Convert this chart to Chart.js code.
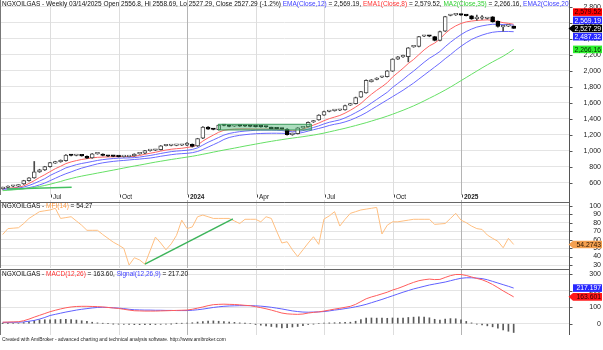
<!DOCTYPE html>
<html>
<head>
<meta charset="utf-8">
<script src="https://cdn.jsdelivr.net/npm/chart.js@4.4.1/dist/chart.umd.min.js"></script>
<style>
  body { margin: 0; background: #fff; }
  #wrap { position: relative; width: 603px; height: 350px; overflow: hidden; background: #fff; }
  #wrap canvas { position: absolute; left: 0; }
</style>
</head>
<body>
<div id="wrap">
  <canvas id="pricePane" width="603" height="201" style="top:0"></canvas>
  <canvas id="mfiPane" width="603" height="70" style="top:200px"></canvas>
  <canvas id="macdPane" width="603" height="81" style="top:269px"></canvas>
</div>
<script>
// weekly bars from 05/05/2023 to 03/14/2025, plus empty weeks on the right
var weekCount = 108;
var weeks = [];
for (var k = 0; k < weekCount; k++) {
    var d = new Date(2023, 4, 5 + 7 * k);
    weeks.push((d.getMonth() + 1) + '/' + d.getDate() + '/' + d.getFullYear());
}

var dateTickWeeks = [9, 22, 35, 48, 61, 74, 87];
var dateTickLabels = ['Jul', 'Oct', '2024', 'Apr', 'Jul', 'Oct', '2025'];
var priceTicks = [600, 800, 1000, 1200, 1400, 1600, 1800, 2000, 2200, 2400, 2600, 2800];
var mfiTicks = [30, 40, 50, 60, 70, 80, 90, 100];
var macdTicks = [0, 100, 200, 300];

var openP = [525, 540, 555, 556, 585, 625, 660, 735, 760, 800, 845, 862, 875, 945, 940, 940, 930, 910, 960, 958,
    935, 930, 928, 925, 926, 935, 960, 968, 1000, 1005, 1012, 1062, 1065, 1066, 1068, 1068, 1080, 1058, 1155, 1295,
    1268, 1262, 1318, 1315, 1305, 1308, 1306, 1305, 1303, 1300, 1298, 1292, 1276, 1274, 1270, 1200, 1212, 1285, 1300, 1358,
    1385, 1445, 1490, 1500, 1505, 1510, 1570, 1588, 1670, 1722, 1862, 1890, 1918, 1925, 1995, 2145, 2172, 2175, 2298, 2302,
    2430, 2432, 2425, 2378, 2495, 2690, 2697, 2698, 2692, 2685, 2650, 2655, 2652, 2672, 2618, 2548, 2557, 2556.8];
var highP = [545, 560, 565, 575, 630, 665, 865, 768, 805, 855, 868, 885, 950, 950, 948, 945, 935, 965, 968, 962,
    940, 935, 932, 930, 936, 962, 970, 1005, 1008, 1016, 1065, 1070, 1070, 1072, 1075, 1100, 1085, 1155, 1300, 1300,
    1275, 1325, 1325, 1320, 1312, 1312, 1310, 1308, 1307, 1304, 1302, 1295, 1280, 1278, 1275, 1220, 1290, 1305, 1360, 1378,
    1450, 1495, 1498, 1508, 1512, 1570, 1592, 1670, 1742, 1885, 1890, 1912, 1925, 2002, 2150, 2178, 2195, 2290, 2305, 2430,
    2438, 2436, 2430, 2495, 2680, 2702, 2705, 2703, 2697, 2690, 2695, 2690, 2662, 2678, 2622, 2565, 2566, 2558.69];
var lowP = [518, 535, 548, 550, 578, 618, 655, 728, 752, 795, 840, 855, 868, 935, 935, 930, 900, 905, 955, 935,
    926, 924, 920, 920, 922, 930, 955, 963, 995, 1000, 1008, 1058, 1060, 1061, 1063, 1063, 1045, 1052, 1150, 1265,
    1260, 1258, 1310, 1298, 1300, 1302, 1300, 1298, 1295, 1293, 1290, 1272, 1270, 1265, 1195, 1192, 1208, 1280, 1296, 1352,
    1380, 1440, 1485, 1494, 1500, 1505, 1565, 1583, 1665, 1718, 1858, 1885, 1912, 1920, 1990, 2140, 2165, 2110, 2292, 2298,
    2425, 2424, 2372, 2372, 2490, 2685, 2690, 2690, 2683, 2640, 2630, 2640, 2645, 2605, 2545, 2495, 2550, 2527.29];
var closeP = [540, 555, 560, 572, 625, 660, 735, 760, 800, 850, 862, 880, 945, 940, 942, 935, 905, 960, 962, 940,
    930, 928, 925, 926, 932, 958, 966, 1000, 1003, 1012, 1060, 1065, 1066, 1068, 1070, 1095, 1052, 1150, 1295, 1270,
    1265, 1320, 1315, 1303, 1308, 1306, 1305, 1303, 1300, 1298, 1296, 1275, 1274, 1270, 1200, 1215, 1285, 1300, 1355, 1372,
    1445, 1490, 1492, 1505, 1508, 1565, 1588, 1665, 1738, 1880, 1885, 1908, 1920, 1998, 2145, 2172, 2190, 2285, 2300, 2425,
    2433, 2430, 2378, 2490, 2675, 2697, 2700, 2695, 2688, 2648, 2662, 2668, 2655, 2612, 2552, 2560, 2560, 2527.29];

var ema8 = [525, 530, 536, 542, 560, 590, 625, 665, 700, 738, 775, 805, 838, 860, 876, 890, 900, 910, 917, 920,
    922, 924, 925, 925, 926, 930, 940, 955, 968, 980, 995, 1008, 1018, 1025, 1030, 1040, 1050, 1070, 1120, 1160,
    1195, 1230, 1255, 1265, 1270, 1272, 1272, 1272, 1270, 1270, 1270, 1270, 1268, 1265, 1255, 1248, 1252, 1270, 1295, 1320,
    1345, 1375, 1400, 1420, 1440, 1470, 1505, 1545, 1590, 1650, 1705, 1755, 1800, 1850, 1920, 1975, 2030, 2090, 2140, 2200,
    2260, 2310, 2345, 2395, 2465, 2520, 2560, 2590, 2610, 2620, 2628, 2632, 2635, 2630, 2615, 2600, 2592, 2579.52];
var ema12 = [522, 525, 528, 532, 545, 565, 590, 620, 650, 690, 722, 752, 785, 805, 825, 840, 852, 865, 878, 888,
    896, 902, 906, 908, 910, 913, 920, 930, 940, 952, 965, 977, 988, 995, 1000, 1005, 1015, 1035, 1070, 1105,
    1135, 1165, 1195, 1215, 1228, 1238, 1245, 1250, 1255, 1258, 1258, 1258, 1256, 1252, 1242, 1236, 1238, 1250, 1270, 1290,
    1310, 1335, 1355, 1370, 1385, 1410, 1440, 1475, 1510, 1550, 1595, 1640, 1685, 1730, 1790, 1840, 1890, 1945, 1995, 2050,
    2105, 2155, 2195, 2240, 2300, 2355, 2405, 2450, 2490, 2520, 2545, 2560, 2572, 2580, 2580, 2577, 2575, 2569.19];
var ema20 = [508, 511, 514, 518, 525, 538, 552, 572, 595, 625, 655, 685, 712, 735, 760, 782, 800, 818, 835, 848,
    858, 866, 873, 878, 884, 890, 895, 902, 908, 918, 930, 940, 950, 958, 963, 967, 975, 990, 1015, 1045,
    1075, 1105, 1140, 1165, 1180, 1192, 1200, 1207, 1212, 1215, 1217, 1218, 1218, 1217, 1215, 1213, 1215, 1228, 1245, 1262,
    1278, 1295, 1315, 1330, 1342, 1360, 1382, 1410, 1440, 1475, 1515, 1555, 1595, 1635, 1675, 1715, 1755, 1800, 1845, 1895,
    1945, 1995, 2045, 2095, 2150, 2200, 2255, 2305, 2350, 2390, 2420, 2445, 2465, 2480, 2488, 2490, 2490, 2487.32];
var ma35 = [500, 505, 510, 516, 522, 530, 540, 552, 565, 580, 598, 615, 635, 652, 668, 682, 695, 707, 720, 732,
    745, 757, 770, 783, 796, 808, 820, 832, 845, 857, 868, 879, 890, 900, 910, 920, 930, 942, 955, 968,
    982, 995, 1008, 1020, 1032, 1045, 1058, 1070, 1082, 1094, 1106, 1117, 1128, 1138, 1148, 1157, 1166, 1175, 1185, 1195,
    1207, 1220, 1235, 1250, 1265, 1280, 1297, 1314, 1332, 1350, 1370, 1390, 1410, 1432, 1455, 1480, 1505, 1532, 1560, 1590,
    1622, 1655, 1688, 1722, 1758, 1795, 1835, 1875, 1915, 1955, 1995, 2035, 2073, 2110, 2145, 2180, 2222, 2266.16];

var mfi14 = [66, 73, 73.5, 74, 79, 85, 89, 93, 94, 95, 97, 85, 86, 87, 82, 77, 71, 71, 71, 66,
    61.5, 57, 53.6, 49.7, 30, 38.6, 36, 31, 47, 63, 56, 48, 55, 65, 83, 73, 75, 87, 89, 87,
    85, 85, 85, 85, 82, 79, 84, 84, 84, 81, 87, 85, 70, 56, 57.5, 48, 40, 48, 56, 63.4,
    54.4, 84.3, 88, 93, 76, 84, 91, 93, 95, 96, 97, 98, 66.6, 77, 81, 81, 82, 83, 84, 84,
    84, 84, 78, 78.5, 79, 85, 91, 83, 80, 76, 73, 72, 65.4, 61.5, 58, 50.4, 61.5, 54.2743];

var macdLine = [9, 10, 11, 12, 18, 28, 40, 51, 62, 73, 82, 90, 97, 102, 105, 106, 106, 105, 104, 102,
    99, 96, 93, 88, 83, 79, 78, 77, 77, 77, 78, 79, 80, 81, 82, 83, 88, 95, 102, 110,
    116, 118, 119, 118, 117, 115, 112, 110, 104, 98, 91, 83, 74, 65, 60, 58, 57, 59, 65, 69,
    72, 77, 83, 89, 94, 100, 106, 118, 135, 152, 163, 172, 182, 192, 205, 215, 227, 240, 252, 262,
    268, 272, 269, 270, 282, 293, 300, 300, 294, 285, 276, 268, 255, 239, 220, 200, 182, 163.601];
var signalLine = [8, 8, 8.5, 9, 11, 15, 20, 28, 38, 50, 57, 64, 71, 77, 83, 88, 92, 96, 99, 100,
    99, 97, 95, 92, 88, 85, 84, 83, 83, 82, 82, 81, 81, 80, 80, 80, 82, 85, 89, 94,
    99, 103, 106, 108, 109, 110, 110, 110, 109, 107, 104, 100, 95, 90, 84, 78, 74, 71, 70, 71,
    72, 74, 78, 83, 87, 92, 97, 103, 110, 118, 128, 138, 148, 159, 170, 181, 192, 202, 212, 220,
    228, 236, 242, 248, 254, 262, 270, 277, 280, 280, 278, 275, 268, 258, 248, 238, 228, 217.197];
var macdHist = [1, 2, 2.5, 3, 7, 13, 20, 23, 24, 23, 25, 26, 26, 25, 22, 18, 14, 9, 5, 2,
    0, -1, -2, -4, -5, -6, -6, -6, -6, -5, -4, -2, -1, 1, 2, 3, 6, 10, 13, 16,
    17, 15, 13, 10, 8, 5, 2, 0, -5, -9, -13, -17, -21, -25, -24, -20, -17, -12, -5, -2,
    0, 3, 5, 6, 7, 8, 9, 15, 25, 34, 35, 34, 34, 33, 35, 34, 35, 38, 40, 42,
    40, 36, 27, 22, 28, 31, 30, 23, 14, 5, -2, -7, -13, -19, -28, -38, -46, -53.6];

// drawn studies (green box and trend lines)
var boxWeeks = [41, 58.6];
var boxValues = [1259, 1330];
var priceTrendWeeks = [0.8, 13.1];
var priceTrendValues = [521, 543];
var mfiTrendWeeks = [27, 43.7];
var mfiTrendValues = [31, 84.5];

var last = closeP.length - 1;
var BLUE = '#6a6aff', RED = '#ff6464', GREEN = '#66e066';
var FONT = '"Liberation Sans", Arial, sans-serif';

function fmt2(v) {
    return v.toLocaleString('en-US', {minimumFractionDigits: 2, maximumFractionDigits: 2});
}

function drawSegments(ctx, x, y, segs, clipRight) {
    ctx.save();
    ctx.beginPath();
    ctx.rect(0, 0, clipRight, 400);
    ctx.clip();
    ctx.font = '6.5px ' + FONT;
    ctx.textAlign = 'left';
    ctx.textBaseline = 'middle';
    segs.forEach(function (s) {
        ctx.fillStyle = s[1];
        ctx.fillText(s[0], x, y);
        x += ctx.measureText(s[0]).width;
    });
    ctx.restore();
}

function drawTag(ctx, y, text, bg, fg, arrow) {
    var x0 = 573, x1 = 602, h = 7.6;
    ctx.beginPath();
    if (arrow) {
        ctx.moveTo(568.5, y);
        ctx.lineTo(x0, y - h / 2);
    } else {
        ctx.moveTo(x0, y - h / 2);
    }
    ctx.lineTo(x1, y - h / 2);
    ctx.lineTo(x1, y + h / 2);
    ctx.lineTo(x0, y + h / 2);
    ctx.closePath();
    ctx.fillStyle = bg;
    ctx.fill();
    ctx.fillStyle = fg;
    ctx.font = '6.8px ' + FONT;
    ctx.textAlign = 'right';
    ctx.textBaseline = 'middle';
    ctx.fillText(text, x1 - 1, y + 0.5);
}

function line(ctx, x1, y1, x2, y2, color, w) {
    ctx.beginPath();
    ctx.moveTo(x1, y1);
    ctx.lineTo(x2, y2);
    ctx.strokeStyle = color;
    ctx.lineWidth = w || 1;
    ctx.stroke();
}

// grid, axis labels, titles and tags for one pane
function paneDecor(opt) {
    return {
        id: 'paneDecor',
        beforeDatasetsDraw: function (chart) {
            var ctx = chart.ctx, xs = chart.scales.x, area = chart.chartArea;
            ctx.save();
            dateTickWeeks.forEach(function (w, n) {
                var x = Math.round(xs.getPixelForValue(w)) + 0.5;
                var year = dateTickLabels[n].length === 4;
                line(ctx, x, opt.gridTop, x, area.bottom, year ? '#b4b4b4' : '#dddddd', 1);
            });
            ctx.restore();
        },
        afterDatasetsDraw: function (chart) {
            if (opt.extras) {
                chart.ctx.save();
                opt.extras(chart);
                chart.ctx.restore();
            }
        },
        afterDraw: function (chart) {
            var ctx = chart.ctx, xs = chart.scales.x, ys = chart.scales.y, area = chart.chartArea;
            ctx.save();
            var rx = Math.round(area.right) + 0.5;
            line(ctx, 0.5, opt.gridTop, 0.5, area.bottom, '#777', 1);
            line(ctx, rx, 0, rx, opt.axisBottom, '#555', 1);
            if (opt.topBorder) {
                line(ctx, 0, Math.round(area.top) + 0.5, rx, Math.round(area.top) + 0.5, '#666', 1);
            }
            // right axis labels
            ctx.font = '7px ' + FONT;
            ctx.fillStyle = '#222';
            ctx.textAlign = 'right';
            ctx.textBaseline = 'middle';
            opt.ticks.forEach(function (v) {
                var y = ys.getPixelForValue(v);
                line(ctx, rx, Math.round(y) + 0.5, rx + 3, Math.round(y) + 0.5, '#555', 1);
                ctx.fillText(opt.tickFormat(v), 601, y);
            });
            if (opt.dateLabels) {
                ctx.textAlign = 'left';
                dateTickWeeks.forEach(function (w, n) {
                    var x = Math.round(xs.getPixelForValue(w)) + 0.5;
                    var year = dateTickLabels[n].length === 4;
                    line(ctx, x + 1, 194.5, x + 1, 197.5, '#444', 1);
                    ctx.font = (year ? 'bold ' : '') + '6.5px ' + FONT;
                    ctx.fillStyle = '#222';
                    ctx.fillText(dateTickLabels[n], x + 2.5, 197.5);
                });
            }
            drawSegments(ctx, 2, opt.titleY, opt.title, area.right);
            opt.tags(chart, ctx, ys);
            if (opt.footer) {
                ctx.font = '4.9px ' + FONT;
                ctx.fillStyle = '#222';
                ctx.textAlign = 'left';
                ctx.textBaseline = 'middle';
                ctx.fillText(opt.footer, 2, opt.footerY);
            }
            ctx.restore();
        }
    };
}

function yScale(min, max) {
    return {
        position: 'right',
        min: min,
        max: max,
        afterBuildTicks: null,
        afterFit: function (s) { s.width = 34; },
        ticks: {display: false},
        grid: {color: '#e4e4e4', drawTicks: false},
        border: {display: false}
    };
}

function xScale() {
    return {type: 'category', display: false, offset: true, grid: {display: false}};
}

function setTicks(list) {
    return function (s) {
        s.ticks = list.map(function (v) { return {value: v}; });
    };
}

var baseOptions = function (padding, yCfg) {
    return {
        responsive: false,
        animation: false,
        events: [],
        layout: {padding: padding},
        plugins: {legend: {display: false}, tooltip: {enabled: false}},
        scales: {x: xScale(), y: yCfg}
    };
};

// ---- price pane
var priceY = yScale(446, 2871);
priceY.afterBuildTicks = setTicks(priceTicks);
var upCandle = function (i) { return closeP[i] >= openP[i]; };

new Chart(document.getElementById('pricePane'), {
    type: 'bar',
    data: {
        labels: weeks,
        datasets: [
            {
                type: 'bar', data: openP.map(function (o, i) { return [o, closeP[i]]; }),
                backgroundColor: openP.map(function (o, i) { return upCandle(i) ? '#ffffff' : '#000000'; }),
                borderColor: openP.map(function (o, i) { return upCandle(i) ? '#4a4a4a' : '#000000'; }),
                borderWidth: 1, borderSkipped: false, barThickness: 4, minBarLength: 1.5, grouped: false, order: 0
            },
            {
                type: 'bar', data: lowP.map(function (l, i) { return [l, highP[i]]; }),
                backgroundColor: '#4a4a4a', barThickness: 1, grouped: false, order: 1
            },
            {type: 'line', data: ma35, borderColor: GREEN, borderWidth: 1, pointRadius: 0, order: 2},
            {type: 'line', data: ema20, borderColor: BLUE, borderWidth: 1, pointRadius: 0, order: 2},
            {type: 'line', data: ema12, borderColor: BLUE, borderWidth: 1, pointRadius: 0, order: 2},
            {type: 'line', data: ema8, borderColor: RED, borderWidth: 1, pointRadius: 0, order: 2}
        ]
    },
    options: baseOptions({left: 0, right: 0, top: 1, bottom: 6}, priceY),
    plugins: [paneDecor({
        gridTop: 0,
        axisBottom: 201,
        ticks: priceTicks,
        tickFormat: function (v) { return v.toLocaleString('en-US'); },
        dateLabels: true,
        titleY: 4.5,
        title: [
            ['NGXOILGAS - Weekly 03/14/2025 Open 2556.8, Hi 2558.69, Lo 2527.29, Close 2527.29 (-1.2%) ', '#111'],
            ['EMA(Close,12)', '#3c3cff'], [' = ' + fmt2(ema12[last]) + ', ', '#111'],
            ['EMA1(Close,8)', '#ff3030'], [' = ' + fmt2(ema8[last]) + ', ', '#111'],
            ['MA2(Close,35)', '#30d030'], [' = ' + fmt2(ma35[last]) + ', ', '#111'],
            ['EMA2(Close,20)', '#3c3cff'], [' = ' + fmt2(ema20[last]), '#111']
        ],
        extras: function (chart) {
            var ctx = chart.ctx, xs = chart.scales.x, ys = chart.scales.y;
            var bx0 = xs.getPixelForValue(boxWeeks[0]), bx1 = xs.getPixelForValue(boxWeeks[1]);
            var by0 = ys.getPixelForValue(boxValues[1]), by1 = ys.getPixelForValue(boxValues[0]);
            ctx.fillStyle = 'rgba(70, 180, 110, 0.45)';
            ctx.fillRect(bx0, by0, bx1 - bx0, by1 - by0);
            ctx.strokeStyle = '#3a9a5a';
            ctx.lineWidth = 1;
            ctx.strokeRect(bx0, by0, bx1 - bx0, by1 - by0);
            line(ctx, xs.getPixelForValue(priceTrendWeeks[0]), ys.getPixelForValue(priceTrendValues[0]),
                xs.getPixelForValue(priceTrendWeeks[1]), ys.getPixelForValue(priceTrendValues[1]), '#44c060', 1.5);
        },
        tags: function (chart, ctx, ys) {
            var tags = [
                {value: ema8[last], bg: '#ff0000', fg: '#300000'},
                {value: ema12[last], bg: '#2828ff', fg: '#ffffff'},
                {value: closeP[last], bg: '#000000', fg: '#ffffff', arrow: true, anchor: true},
                {value: ema20[last], bg: '#2828ff', fg: '#ffffff'},
                {value: ma35[last], bg: '#2ef02e', fg: '#002800'}
            ];
            tags.forEach(function (t) { t.y = ys.getPixelForValue(t.value); });
            tags.sort(function (a, b) { return b.value - a.value; });
            var a = tags.findIndex(function (t) { return t.anchor; });
            var gap = 8.2, prev = tags[a].y, j;
            for (j = a - 1; j >= 0; j--) { tags[j].y = Math.min(tags[j].y, prev - gap); prev = tags[j].y; }
            prev = tags[a].y;
            for (j = a + 1; j < tags.length; j++) { tags[j].y = Math.max(tags[j].y, prev + gap); prev = tags[j].y; }
            tags.forEach(function (t) { drawTag(ctx, t.y, fmt2(t.value), t.bg, t.fg, t.arrow); });
        }
    })]
});

// ---- MFI pane
var mfiY = yScale(26.5, 104.4);
mfiY.afterBuildTicks = setTicks(mfiTicks);
new Chart(document.getElementById('mfiPane'), {
    type: 'line',
    data: {
        labels: weeks,
        datasets: [
            {data: mfi14, borderColor: '#ffbf80', borderWidth: 1, pointRadius: 0}
        ]
    },
    options: baseOptions({left: 0, right: 0, top: 2, bottom: 2}, mfiY),
    plugins: [paneDecor({
        gridTop: 0,
        axisBottom: 70,
        topBorder: true,
        ticks: mfiTicks,
        tickFormat: function (v) { return String(v); },
        titleY: 6.5,
        title: [['NGXOILGAS - ', '#111'], ['MFI(14)', '#ff9a40'], [' = ' + mfi14[last].toFixed(2), '#111']],
        extras: function (chart) {
            var xs = chart.scales.x, ys = chart.scales.y;
            line(chart.ctx, xs.getPixelForValue(mfiTrendWeeks[0]), ys.getPixelForValue(mfiTrendValues[0]),
                xs.getPixelForValue(mfiTrendWeeks[1]), ys.getPixelForValue(mfiTrendValues[1]), '#3cb45a', 1.5);
        },
        tags: function (chart, ctx, ys) {
            drawTag(ctx, ys.getPixelForValue(mfi14[last]), mfi14[last].toFixed(4), '#f4a050', '#2a1500', true);
        }
    })]
});

// ---- MACD pane
var macdY = yScale(-68.9, 333.5);
macdY.afterBuildTicks = setTicks(macdTicks);
new Chart(document.getElementById('macdPane'), {
    type: 'bar',
    data: {
        labels: weeks,
        datasets: [
            {type: 'bar', data: macdHist, backgroundColor: '#5a5a5a', barThickness: 1, grouped: false, order: 2},
            {type: 'line', data: signalLine, borderColor: '#6060ff', borderWidth: 1, pointRadius: 0, order: 1},
            {type: 'line', data: macdLine, borderColor: '#ff5c5c', borderWidth: 1, pointRadius: 0, order: 0}
        ]
    },
    options: baseOptions({left: 0, right: 0, top: 0, bottom: 15}, macdY),
    plugins: [paneDecor({
        gridTop: 0,
        axisBottom: 66,
        topBorder: true,
        ticks: macdTicks,
        tickFormat: function (v) { return String(v); },
        titleY: 5,
        title: [['NGXOILGAS - ', '#111'], ['MACD(12,26)', '#ff3030'], [' = ' + macdLine[last].toFixed(2) + ', ', '#111'],
            ['Signal(12,26,9)', '#4040ff'], [' = ' + signalLine[last].toFixed(2), '#111']],
        tags: function (chart, ctx, ys) {
            drawTag(ctx, ys.getPixelForValue(signalLine[last]), signalLine[last].toFixed(3), '#2828ff', '#ffffff', false);
            drawTag(ctx, ys.getPixelForValue(macdLine[last]), macdLine[last].toFixed(3), '#ff1a1a', '#300000', true);
        },
        footer: 'Created with AmiBroker - advanced charting and technical analysis software. http://www.amibroker.com',
        footerY: 71
    })]
});
</script>
</body>
</html>
